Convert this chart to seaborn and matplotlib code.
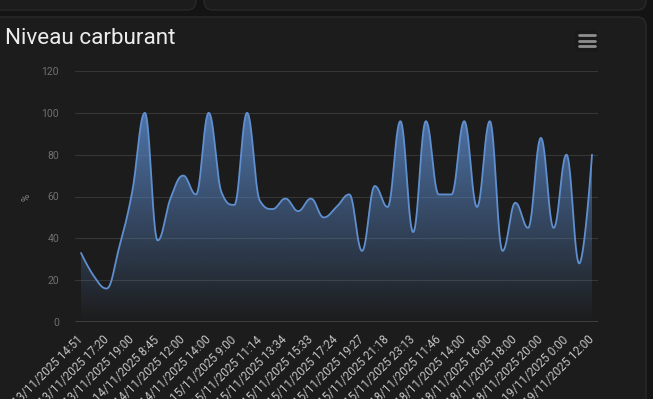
import numpy as np
import pandas as pd
import matplotlib
matplotlib.use("Agg")
import matplotlib.pyplot as plt
import seaborn as sns
from matplotlib.patches import FancyBboxPatch, Polygon
from matplotlib.lines import Line2D
from matplotlib.transforms import IdentityTransform, ScaledTranslation

# ---------------- data ----------------
fuel_level = [33, 22, 16, 36, 62, 100, 39, 59, 70, 61, 100, 62, 56, 100, 58, 54,
              59, 53, 59, 50, 55, 61, 34, 65, 55, 96, 43, 96, 61, 61, 96, 55,
              96, 34, 57, 45, 88, 45, 80, 28, 80]
tick_labels = ["13/11/2025 14:51", "13/11/2025 17:20", "13/11/2025 19:00",
               "14/11/2025 8:45", "14/11/2025 12:00", "14/11/2025 14:00",
               "15/11/2025 9:00", "15/11/2025 11:14", "15/11/2025 13:34",
               "15/11/2025 15:33", "15/11/2025 17:24", "15/11/2025 19:27",
               "15/11/2025 21:18", "15/11/2025 23:13", "18/11/2025 11:46",
               "18/11/2025 14:00", "18/11/2025 16:00", "18/11/2025 18:00",
               "18/11/2025 20:00", "19/11/2025 0:00", "19/11/2025 12:00"]
y_ticks = [0, 20, 40, 60, 80, 100, 120]
title = "Niveau carburant"
y_label = "%"

# ---------------- colours ----------------
PAGE = "#141414"
CARD = "#1c1c1c"
CARD_EDGE = "#292929"
LINE = "#5f8fcf"
GRID = "#363636"

# ---------------- spline (Highcharts-like) ----------------
def spline_curve(xs, ys, smoothing=1.5, n=40):
    xs = np.asarray(xs, float); ys = np.asarray(ys, float)
    m = len(xs)
    rcx = np.array(xs); rcy = np.array(ys)
    lcx = np.array(xs); lcy = np.array(ys)
    denom = smoothing + 1
    for i in range(1, m - 1):
        px, py = xs[i], ys[i]
        lx, ly = xs[i - 1], ys[i - 1]
        nx, ny = xs[i + 1], ys[i + 1]
        lcx_i = (smoothing * px + lx) / denom
        lcy_i = (smoothing * py + ly) / denom
        rcx_i = (smoothing * px + nx) / denom
        rcy_i = (smoothing * py + ny) / denom
        corr = 0.0
        if rcx_i != lcx_i:
            corr = (rcy_i - lcy_i) * (rcx_i - px) / (rcx_i - lcx_i) + py - rcy_i
        lcy_i += corr; rcy_i += corr
        if lcy_i > ly and lcy_i > py:
            lcy_i = max(ly, py); rcy_i = 2 * py - lcy_i
        elif lcy_i < ly and lcy_i < py:
            lcy_i = min(ly, py); rcy_i = 2 * py - lcy_i
        if rcy_i > ny and rcy_i > py:
            rcy_i = max(ny, py); lcy_i = 2 * py - rcy_i
        elif rcy_i < ny and rcy_i < py:
            rcy_i = min(ny, py); lcy_i = 2 * py - rcy_i
        lcx[i], lcy[i], rcx[i], rcy[i] = lcx_i, lcy_i, rcx_i, rcy_i
    out_x, out_y = [xs[0]], [ys[0]]
    t = np.linspace(0, 1, n)[1:]
    for i in range(1, m):
        p0 = (xs[i - 1], ys[i - 1]); p1 = (rcx[i - 1], rcy[i - 1])
        p2 = (lcx[i], lcy[i]); p3 = (xs[i], ys[i])
        a = (1 - t) ** 3; b = 3 * (1 - t) ** 2 * t; c = 3 * (1 - t) * t ** 2; d = t ** 3
        out_x.extend(a * p0[0] + b * p1[0] + c * p2[0] + d * p3[0])
        out_y.extend(a * p0[1] + b * p1[1] + c * p2[1] + d * p3[1])
    return np.array(out_x), np.array(out_y)

idx = np.arange(len(fuel_level))
sx, sy = spline_curve(idx, fuel_level)
df = pd.DataFrame({"pos": sx, "level": sy})

# ---------------- figure ----------------
sns.set_theme(style="dark")
plt.rcParams["font.family"] = ["Roboto", "DejaVu Sans"]

W, H = 653, 399
fig = plt.figure(figsize=(W / 100, H / 100), dpi=100, facecolor=PAGE)

def card(x0, y0_top, x1, y1_top, r=9):
    p = FancyBboxPatch((x0, H - y1_top), x1 - x0, y1_top - y0_top,
                       boxstyle=f"round,pad=0,rounding_size={r}",
                       transform=IdentityTransform(), facecolor=CARD,
                       edgecolor=CARD_EDGE, linewidth=1.0, zorder=-10)
    fig.patches.append(p)

card(-20, -40, 196, 10)
card(204, -40, 646, 10)
card(-20, 17, 646, 440)

L, R, T, B = 75, 598, 71, 322
ax = fig.add_axes([L / W, 1 - B / H, (R - L) / W, (B - T) / H])
ax.set_facecolor("none")
ax.set_zorder(2)

sns.lineplot(data=df, x="pos", y="level", ax=ax, color=LINE, linewidth=1.3,
             sort=False, zorder=4)

# gradient fill under the curve
verts = np.column_stack([np.r_[sx, sx[-1], sx[0]], np.r_[sy, 0, 0]])
clip = Polygon(verts, closed=True, facecolor="none", edgecolor="none",
               transform=ax.transData)
ax.add_patch(clip)
base = np.array([88, 133, 196]) / 255
grad = np.zeros((256, 1, 4))
grad[:, 0, :3] = base
grad[:, 0, 3] = np.linspace(0.0, 0.85, 256)
im = ax.imshow(grad, extent=[-1, len(idx), 0, 100], origin="lower",
               aspect="auto", zorder=3, interpolation="bilinear")
im.set_clip_path(clip)

pad = 6 / ((R - L - 12) / (len(idx) - 1))
ax.set_xlim(-pad, len(idx) - 1 + pad)
ax.set_ylim(0, 120)

for s in ax.spines.values():
    s.set_visible(False)
ax.axhline(0, color="#c8c8c8", linewidth=1.0, zorder=5)
for v in y_ticks[1:]:
    ax.axhline(v, color=GRID, linewidth=0.8, zorder=1)
ax.grid(False)

ax.set_yticks(y_ticks)
ax.set_yticklabels([str(v) for v in y_ticks], color="#707070", fontsize=7.5)
ax.tick_params(axis="y", length=0, pad=11.5)

tick_pos = list(range(0, len(idx), 2))
ax.set_xticks(tick_pos)
ax.set_xticklabels(tick_labels, rotation=45, ha="right", va="center",
                   rotation_mode="anchor", color="#c4c4c4", fontsize=8.4)
ax.tick_params(axis="x", length=0, pad=0)
off = ScaledTranslation(0 / 100, -16 / 100, fig.dpi_scale_trans)
for lab in ax.get_xticklabels():
    lab.set_transform(lab.get_transform() + off)

ax.set_xlabel("")
ax.set_ylabel("")
fig.text(27 / W, 1 - 197 / H, y_label, rotation=90, ha="center", va="center",
         color="#8a8a8a", fontsize=7)

fig.text(5 / W, 1 - 43.5 / H, title, ha="left", va="baseline",
         color="#ececec", fontsize=16.2)

# menu icon
icon_bg = FancyBboxPatch((575, H - 52), 23, 22, boxstyle="round,pad=0,rounding_size=2",
                         transform=IdentityTransform(), facecolor="#191919",
                         edgecolor="none", zorder=-5)
fig.patches.append(icon_bg)
for yy in (35, 40.5, 45.5):
    fig.lines.append(Line2D([579, 595], [H - yy, H - yy], transform=IdentityTransform(),
                            color="#8e8e8e", linewidth=2.0, solid_capstyle="round"))

fig.savefig("out.png", dpi=100, facecolor=PAGE)
